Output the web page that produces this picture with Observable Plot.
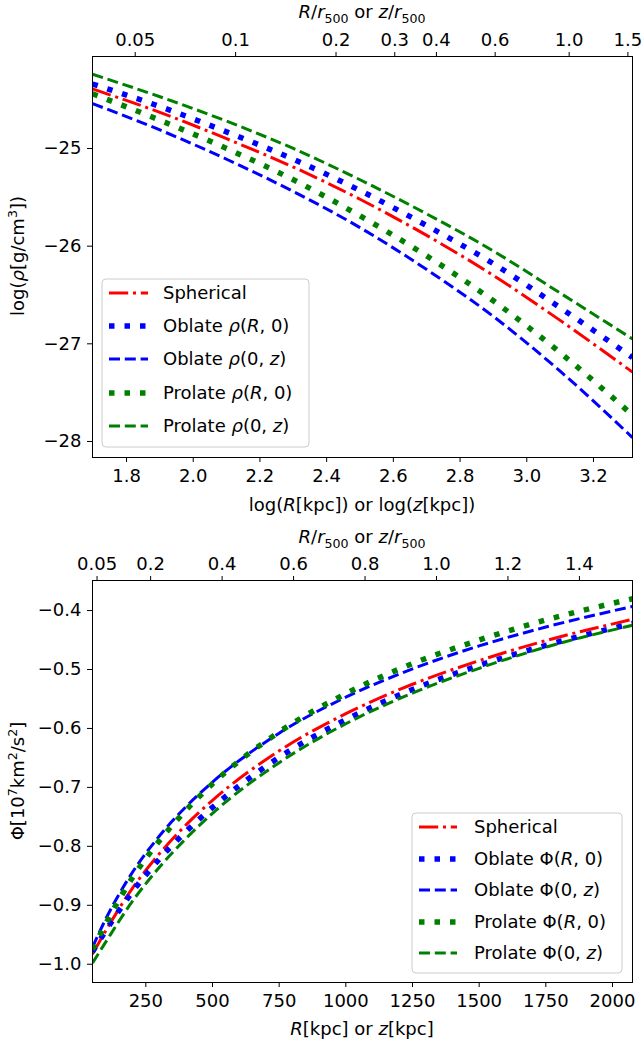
<!DOCTYPE html>
<html>
<head>
<meta charset="utf-8">
<script src="https://cdn.jsdelivr.net/npm/d3@7"></script>
<script src="https://cdn.jsdelivr.net/npm/@observablehq/plot@0.6"></script>
<style>
  html, body { margin: 0; padding: 0; background: white; }
  #wrap { position: relative; width: 643px; height: 1046px; overflow: hidden; }
  #wrap svg { position: absolute; left: 0; }
</style>
</head>
<body>
<div id="wrap"></div>
<script>
// ---------------- data: top panel (log density) ----------------
const logR = [1.698, 1.9, 2.1, 2.3, 2.5, 2.7, 2.9, 3.1, 3.317];
const rhoSpherical   = [-24.39, -24.63, -24.90, -25.19, -25.52, -25.89, -26.30, -26.76, -27.29];
const rhoOblateR0    = [-24.34, -24.57, -24.83, -25.11, -25.43, -25.79, -26.18, -26.63, -27.14];
const rhoOblate0z    = [-24.54, -24.81, -25.11, -25.44, -25.81, -26.24, -26.72, -27.28, -27.96];
const rhoProlateR0   = [-24.44, -24.71, -25.00, -25.32, -25.69, -26.10, -26.56, -27.09, -27.73];
const rhoProlate0z   = [-24.24, -24.47, -24.72, -25.00, -25.32, -25.67, -26.05, -26.48, -26.95];

// ---------------- data: bottom panel (potential) ----------------
const Rkpc = [50, 100, 200, 300, 400, 500, 750, 1000, 1250, 1500, 1750, 2075];
const phiSpherical  = [-0.983, -0.943, -0.871, -0.813, -0.764, -0.722, -0.638, -0.575, -0.525, -0.485, -0.451, -0.415];
const phiOblateR0   = [-0.979, -0.943, -0.877, -0.822, -0.775, -0.734, -0.649, -0.585, -0.534, -0.493, -0.459, -0.422];
const phiOblate0z   = [-0.971, -0.923, -0.844, -0.783, -0.733, -0.691, -0.608, -0.547, -0.499, -0.460, -0.428, -0.393];
const phiProlateR0  = [-0.975, -0.931, -0.853, -0.791, -0.739, -0.694, -0.606, -0.541, -0.490, -0.450, -0.416, -0.380];
const phiProlate0z  = [-0.998, -0.962, -0.893, -0.836, -0.787, -0.744, -0.658, -0.592, -0.540, -0.498, -0.462, -0.425];

// ---------------- ticks ----------------
const r500 = 1340; // kpc
const rhoXTicks = [1.8, 2.0, 2.2, 2.4, 2.6, 2.8, 3.0, 3.2];
const rhoYTicks = [-28, -27, -26, -25];
const rhoTopLabels = ["0.05", "0.1", "0.2", "0.3", "0.4", "0.6", "1.0", "1.5"];
const phiXTicks = [250, 500, 750, 1000, 1250, 1500, 1750, 2000];
const phiYTicks = [-1.0, -0.9, -0.8, -0.7, -0.6, -0.5, -0.4];
const phiTopLabels = ["0.05", "0.2", "0.4", "0.6", "0.8", "1.0", "1.2", "1.4"];

// ---------------- series styles ----------------
const seriesNames = ["Spherical", "Oblate R0", "Oblate 0z", "Prolate R0", "Prolate 0z"];
const seriesColors = ["#ff0000", "#0000ff", "#0000ff", "#008000", "#008000"];
const DASHDOT = "19.2,4.8,3,4.8", DOT = "5.5,10", DASH = "11,4.8";
const seriesDash = [DASHDOT, DOT, DASH, DOT, DASH];
const seriesWidth = [3, 5.5, 3, 5.5, 3];

const rhoSeries = [rhoSpherical, rhoOblateR0, rhoOblate0z, rhoProlateR0, rhoProlate0z];
const phiSeries = [phiSpherical, phiOblateR0, phiOblate0z, phiProlateR0, phiProlate0z];

const rhoRows = rhoSeries.flatMap((ys, s) => ys.map((y, i) => ({s, x: logR[i], y})));
const phiRows = phiSeries.flatMap((ys, s) => ys.map((y, i) => ({s, x: Rkpc[i], y})));

function lineMarks(rows) {
  return seriesNames.map((_, s) => Plot.line(rows.filter(d => d.s === s), {
    x: "x", y: "y", stroke: seriesColors[s], strokeWidth: seriesWidth[s],
    strokeDasharray: seriesDash[s], strokeLinecap: "butt", curve: "monotone-x", clip: true
  }));
}

const FS = 18;
const font = "'DejaVu Sans', sans-serif";
const fmt1 = d3.format(".1f");

function rich(g, x, y, parts, {anchor = "middle", size = FS, rotate = null} = {}) {
  const t = g.append("text").attr("x", x).attr("y", y).attr("text-anchor", anchor)
    .attr("font-size", size).attr("font-family", font).attr("fill", "black");
  if (rotate !== null) t.attr("transform", `rotate(${rotate},${x},${y})`);
  let shift = 0;
  for (const [s, st = ""] of parts) {
    const flags = st.split(" ");
    const span = t.append("tspan").text(s);
    let target = 0;
    if (flags.includes("sub")) { target = 0.28 * size; span.attr("font-size", size * 0.7); }
    if (flags.includes("sup")) { target = -0.38 * size; span.attr("font-size", size * 0.7); }
    if (flags.includes("it")) span.attr("font-style", "italic");
    if (target !== shift) { span.attr("dy", target - shift); shift = target; }
  }
  return t;
}

function legend(g, x0, y0, w, h, rowY, lineX0, lineX1, textX, labels) {
  g.append("rect").attr("x", x0).attr("y", y0).attr("width", w).attr("height", h)
    .attr("rx", 4).attr("fill", "white").attr("fill-opacity", 0.8)
    .attr("stroke", "#cccccc").attr("stroke-width", 1);
  labels.forEach((parts, i) => {
    const y = rowY[i];
    g.append("line").attr("x1", lineX0).attr("x2", lineX1).attr("y1", y).attr("y2", y)
      .attr("stroke", seriesColors[i]).attr("stroke-width", seriesWidth[i])
      .attr("stroke-dasharray", seriesDash[i]);
    rich(g, textX, y + 0.36 * FS, parts, {anchor: "start"});
  });
}

const chartStyle = {fontFamily: font, fontSize: FS + "px", color: "black", background: "transparent", overflow: "visible"};

// ================= top panel =================
const rhoTopVals = rhoTopLabels.map(t => Math.log10(+t * r500));
const rhoTopMap = new Map(rhoTopVals.map((v, i) => [v, rhoTopLabels[i]]));

const topChart = Plot.plot({
  width: 643, height: 520,
  marginLeft: 92, marginRight: 11, marginTop: 56, marginBottom: 63,
  style: chartStyle,
  x: {domain: [1.698, 3.317]},
  y: {domain: [-28.164, -24.058]},
  marks: [
    ...lineMarks(rhoRows),
    Plot.frame({stroke: "black", strokeWidth: 1}),
    Plot.axisX({ticks: rhoXTicks, tickFormat: fmt1, tickSize: 5, tickPadding: 7, label: null}),
    Plot.axisX({anchor: "top", ticks: rhoTopVals, tickFormat: d => rhoTopMap.get(d), tickSize: 5, tickPadding: 6, label: null}),
    Plot.axisY({ticks: rhoYTicks, tickFormat: d3.format("d"), tickSize: 5, tickPadding: 6, label: null})
  ]
});
topChart.style.top = "0px";
document.getElementById("wrap").appendChild(topChart);
{
  const g = d3.select(topChart).append("g");
  rich(g, 362, 18, [["R", "it"], ["/"], ["r", "it"], ["500", "sub"], [" or "], ["z", "it"], ["/"], ["r", "it"], ["500", "sub"]]);
  rich(g, 362, 511, [["log("], ["R", "it"], ["[kpc]) or log("], ["z", "it"], ["[kpc])"]]);
  rich(g, 24, 256, [["log("], ["ρ", "it"], ["[g/cm"], ["3", "sup"], ["])"]], {rotate: -90});
  legend(g, 102, 279, 207, 168, [293, 326, 359, 393, 426], 109, 148, 163, [
    [["Spherical"]],
    [["Oblate "], ["ρ", "it"], ["("], ["R", "it"], [", 0)"]],
    [["Oblate "], ["ρ", "it"], ["(0, "], ["z", "it"], [")"]],
    [["Prolate "], ["ρ", "it"], ["("], ["R", "it"], [", 0)"]],
    [["Prolate "], ["ρ", "it"], ["(0, "], ["z", "it"], [")"]]
  ]);
}

// ================= bottom panel =================
const phiTopVals = phiTopLabels.map(t => +t * r500);
const phiTopMap = new Map(phiTopVals.map((v, i) => [v, phiTopLabels[i]]));

const botChart = Plot.plot({
  width: 643, height: 526,
  marginLeft: 92, marginRight: 11, marginTop: 60, marginBottom: 64,
  style: chartStyle,
  x: {domain: [50, 2075]},
  y: {domain: [-1.031, -0.349]},
  marks: [
    ...lineMarks(phiRows),
    Plot.frame({stroke: "black", strokeWidth: 1}),
    Plot.axisX({ticks: phiXTicks, tickFormat: d3.format("d"), tickSize: 5, tickPadding: 7, label: null}),
    Plot.axisX({anchor: "top", ticks: phiTopVals, tickFormat: d => phiTopMap.get(d), tickSize: 5, tickPadding: 6, label: null}),
    Plot.axisY({ticks: phiYTicks, tickFormat: fmt1, tickSize: 5, tickPadding: 6, label: null})
  ]
});
botChart.style.top = "520px";
document.getElementById("wrap").appendChild(botChart);
{
  const g = d3.select(botChart).append("g");
  rich(g, 362, 23, [["R", "it"], ["/"], ["r", "it"], ["500", "sub"], [" or "], ["z", "it"], ["/"], ["r", "it"], ["500", "sub"]]);
  rich(g, 362, 515, [["R", "it"], ["[kpc] or "], ["z", "it"], ["[kpc]"]]);
  rich(g, 24, 261, [["Φ[10"], ["7", "sup"], ["km"], ["2", "sup"], ["/s"], ["2", "sup"], ["]"]], {rotate: -90});
  legend(g, 412, 293, 210, 160, [307, 339, 370, 402, 433], 419, 457, 474, [
    [["Spherical"]],
    [["Oblate Φ("], ["R", "it"], [", 0)"]],
    [["Oblate Φ(0, "], ["z", "it"], [")"]],
    [["Prolate Φ("], ["R", "it"], [", 0)"]],
    [["Prolate Φ(0, "], ["z", "it"], [")"]]
  ]);
}
</script>
</body>
</html>
